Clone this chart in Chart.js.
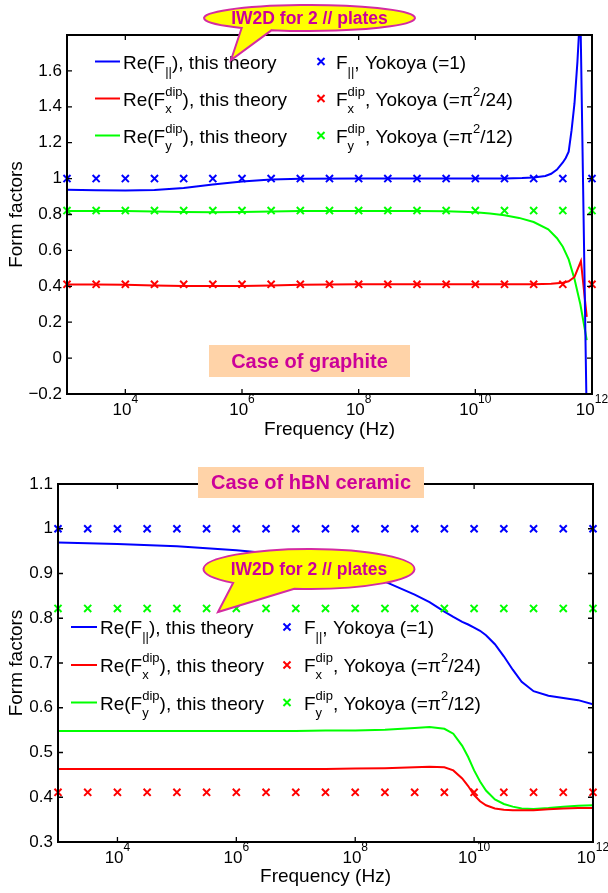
<!DOCTYPE html>
<html>
<head>
<meta charset="utf-8">
<script src="https://cdn.jsdelivr.net/npm/chart.js@4.4.1/dist/chart.umd.min.js"></script>
<style>
  html, body { margin: 0; padding: 0; background: #fff; }
  #wrap { position: relative; width: 608px; height: 893px; }
  canvas { position: absolute; left: 0; }
  #graphite { top: 0; }
  #hbn { top: 446px; }
</style>
</head>
<body>
<div id="wrap">
  <canvas id="graphite" width="608" height="446"></canvas>
  <canvas id="hbn" width="608" height="447"></canvas>
</div>
<script>
// Yokoya form factors, sampled every half decade
var markerFreq = [1e3, 3.16e3, 1e4, 3.16e4, 1e5, 3.16e5, 1e6, 3.16e6, 1e7, 3.16e7,
                  1e8, 3.16e8, 1e9, 3.16e9, 1e10, 3.16e10, 1e11, 3.16e11, 1e12];
var yokoyaPar = 1, yokoyaDipX = 0.411, yokoyaDipY = 0.822;

// graphite, IW2D (log10 of frequency / real part)
var graphiteParLogF = [3, 3.5, 4, 4.5, 5, 5.25, 5.5, 5.75, 6, 6.25, 6.5, 7, 8, 9, 10, 10.5, 10.8,
                       11, 11.2, 11.3, 11.4, 11.5, 11.55, 11.6, 11.65, 11.7, 11.75, 11.8, 11.91];
var graphiteParRe   = [0.938, 0.935, 0.934, 0.937, 0.948, 0.957, 0.967, 0.976, 0.984, 0.99, 0.995, 0.999, 1.0, 1.0, 1.0, 1.001, 1.003,
                       1.006, 1.015, 1.027, 1.05, 1.09, 1.115, 1.15, 1.27, 1.42, 1.65, 1.95, -0.35];
var graphiteDipXLogF = [3, 3.5, 4, 4.5, 5, 5.5, 6, 6.5, 7, 7.5, 8, 9, 10, 10.5, 11, 11.3, 11.5, 11.6, 11.7, 11.81, 11.91];
var graphiteDipXRe   = [0.41, 0.41, 0.408, 0.405, 0.402, 0.401, 0.402, 0.405, 0.408, 0.41, 0.411, 0.411, 0.411, 0.411, 0.412, 0.414, 0.42, 0.428, 0.452, 0.54, 0.23];
var graphiteDipYLogF = [3, 3.5, 4, 4.5, 5, 5.5, 6, 6.5, 7, 8, 9, 9.5, 10, 10.25, 10.5, 10.75, 11, 11.25, 11.4, 11.5, 11.6, 11.7, 11.8, 11.91];
var graphiteDipYRe   = [0.82, 0.82, 0.819, 0.817, 0.814, 0.813, 0.814, 0.817, 0.819, 0.82, 0.82, 0.818, 0.813, 0.806, 0.796, 0.781, 0.758, 0.717, 0.668, 0.62, 0.55, 0.44, 0.3, 0.1];

// hBN ceramic, IW2D
var hbnLogF   = [3, 4, 5, 6, 6.5, 7, 7.5, 8, 8.5, 9, 9.25, 9.5, 9.65, 9.8, 9.9, 10, 10.1, 10.2, 10.35, 10.5, 10.65, 10.8, 11, 11.25, 11.5, 11.75, 12];
var hbnParRe  = [0.969, 0.966, 0.961, 0.952, 0.946, 0.938, 0.925, 0.906, 0.882, 0.853, 0.836, 0.815, 0.803, 0.792, 0.786, 0.779, 0.772, 0.762, 0.742, 0.715, 0.685, 0.658, 0.637, 0.627, 0.622, 0.617, 0.608];
var hbnDipYRe = [0.548, 0.548, 0.548, 0.548, 0.548, 0.548, 0.549, 0.549, 0.551, 0.555, 0.557, 0.553, 0.542, 0.515, 0.49, 0.46, 0.435, 0.415, 0.395, 0.385, 0.379, 0.375, 0.374, 0.376, 0.379, 0.381, 0.382];
var hbnDipXRe = [0.463, 0.463, 0.463, 0.463, 0.463, 0.463, 0.463, 0.464, 0.465, 0.467, 0.468, 0.467, 0.46, 0.442, 0.425, 0.405, 0.391, 0.382, 0.375, 0.372, 0.371, 0.371, 0.371, 0.373, 0.375, 0.376, 0.376];

// axis ticks
var xTickExp = [4, 6, 8, 10, 12];
var graphiteYTicks = [-0.2, 0, 0.2, 0.4, 0.6, 0.8, 1, 1.2, 1.4, 1.6];
var hbnYTicks = [0.3, 0.4, 0.5, 0.6, 0.7, 0.8, 0.9, 1, 1.1];

var FONT = "'Liberation Sans', Arial, Helvetica, sans-serif";
var BLUE = '#0000ff', RED = '#ff0000', GREEN = '#00ff00';
var MAGENTA = '#cc0099';

Chart.defaults.font.family = FONT;
Chart.defaults.color = '#000';

function curve(logF, vals, color) {
  return {
    data: logF.map(function(e, i){ return {x: Math.pow(10, e), y: vals[i]}; }),
    showLine: true, borderColor: color, borderWidth: 2, pointRadius: 0, fill: false
  };
}

function crosses(val, color) {
  return {
    data: markerFreq.map(function(f){ return {x: f, y: val}; }),
    showLine: false, pointStyle: 'crossRot', pointRadius: 5,
    pointBorderColor: color, pointBackgroundColor: color, pointBorderWidth: 2, clip: false
  };
}

function xScale(height) {
  return {
    type: 'logarithmic', min: 1e3, max: 1e12,
    afterBuildTicks: function(s){ s.ticks = xTickExp.map(function(e){ return {value: Math.pow(10, e)}; }); },
    afterFit: function(s){ s.height = height; },
    grid: {display: false, drawTicks: false}, border: {display: false},
    ticks: {display: false},
    title: {display: true, text: 'Frequency (Hz)', font: {size: 19}, padding: {top: 0, bottom: 5}}
  };
}

function yScale(min, max, vals, width) {
  return {
    type: 'linear', min: min, max: max,
    afterBuildTicks: function(s){ s.ticks = vals.map(function(v){ return {value: v}; }); },
    afterFit: function(s){ s.width = width; },
    grid: {display: false, drawTicks: false}, border: {display: false},
    ticks: {padding: 5, autoSkip: false, font: {size: 17},
            callback: function(v){ return String(v).replace('-', '\u2212'); }},
    title: {display: true, text: 'Form factors', font: {size: 19}, padding: {top: 5, bottom: 0}}
  };
}

// frame, inward ticks and 10^n labels
var framePlugin = {
  id: 'frame',
  afterDatasetsDraw: function(chart) {
    var ctx = chart.ctx, a = chart.chartArea, x = chart.scales.x, y = chart.scales.y;
    ctx.save();
    ctx.strokeStyle = '#000';
    ctx.lineWidth = 2;
    ctx.strokeRect(a.left, a.top, a.right - a.left, a.bottom - a.top);
    ctx.lineWidth = 1.3;
    ctx.beginPath();
    y.ticks.forEach(function(t){
      var py = y.getPixelForValue(t.value);
      ctx.moveTo(a.left, py); ctx.lineTo(a.left + 5, py);
      ctx.moveTo(a.right, py); ctx.lineTo(a.right - 5, py);
    });
    x.ticks.forEach(function(t){
      var px = x.getPixelForValue(t.value);
      ctx.moveTo(px, a.bottom); ctx.lineTo(px, a.bottom - 5);
      ctx.moveTo(px, a.top); ctx.lineTo(px, a.top + 5);
    });
    ctx.stroke();

    ctx.fillStyle = '#000';
    ctx.textAlign = 'left';
    ctx.textBaseline = 'alphabetic';
    xTickExp.forEach(function(e){
      var px = x.getPixelForValue(Math.pow(10, e));
      ctx.font = '17px ' + FONT;
      var wb = ctx.measureText('10').width;
      ctx.font = '12px ' + FONT;
      var we = ctx.measureText(String(e)).width;
      var sx = px - (wb + we) / 2;
      ctx.font = '17px ' + FONT;
      ctx.fillText('10', sx, a.bottom + 21);
      ctx.font = '12px ' + FONT;
      ctx.fillText(String(e), sx + wb, a.bottom + 9);
    });
    ctx.restore();
  }
};

// text with TeX-like sub/superscripts
function richText(ctx, x, y, parts) {
  parts.forEach(function(p){
    if (typeof p === 'string') {
      ctx.font = '19px ' + FONT;
      ctx.fillText(p, x, y);
      x += ctx.measureText(p).width;
    } else {
      ctx.font = '13px ' + FONT;
      var w = 0;
      if (p.sup) { ctx.fillText(p.sup, x, y - 10); w = Math.max(w, ctx.measureText(p.sup).width); }
      if (p.sub) { ctx.fillText(p.sub, x, y + 7); w = Math.max(w, ctx.measureText(p.sub).width); }
      x += w;
    }
  });
}

var legendLeft = [
  ['Re(F', {sub: '||'}, '), this theory'],
  ['Re(F', {sup: 'dip', sub: 'x'}, '), this theory'],
  ['Re(F', {sup: 'dip', sub: 'y'}, '), this theory']
];
var legendRight = [
  ['F', {sub: '||'}, ', Yokoya (=1)'],
  ['F', {sup: 'dip', sub: 'x'}, ', Yokoya (=\u03c0', {sup: '2'}, '/24)'],
  ['F', {sup: 'dip', sub: 'y'}, ', Yokoya (=\u03c0', {sup: '2'}, '/12)']
];
var legendColors = [BLUE, RED, GREEN];

function legendPlugin(L) {
  return {
    id: 'formLegend',
    afterDatasetsDraw: function(chart) {
      var ctx = chart.ctx;
      ctx.save();
      ctx.textAlign = 'left';
      ctx.textBaseline = 'alphabetic';
      L.rows.forEach(function(base, i){
        var mid = base - 7;
        ctx.strokeStyle = legendColors[i];
        ctx.lineWidth = 2;
        ctx.beginPath();
        ctx.moveTo(L.line0, mid); ctx.lineTo(L.line1, mid);
        ctx.stroke();
        Chart.helpers.drawPoint(ctx, {pointStyle: 'crossRot', radius: 5, borderWidth: 2, rotation: 0}, L.cross, mid);
        ctx.fillStyle = '#000';
        richText(ctx, L.text0, base, legendLeft[i]);
        richText(ctx, L.text1, base, legendRight[i]);
      });
      ctx.restore();
    }
  };
}

function drawBubble(ctx, b) {
  var a1 = b.a1 * Math.PI / 180, a2 = b.a2 * Math.PI / 180;
  ctx.beginPath();
  ctx.moveTo(b.tip[0], b.tip[1]);
  ctx.lineTo(b.cx + b.rx * Math.cos(a1), b.cy + b.ry * Math.sin(a1));
  ctx.ellipse(b.cx, b.cy, b.rx, b.ry, 0, a1, a2 + 2 * Math.PI);
  ctx.closePath();
  ctx.fillStyle = '#ffff00';
  ctx.fill();
  ctx.strokeStyle = '#d42ba2';
  ctx.lineWidth = 2;
  ctx.stroke();
  ctx.fillStyle = MAGENTA;
  ctx.font = 'bold 17.5px ' + FONT;
  ctx.textAlign = 'center';
  ctx.textBaseline = 'middle';
  ctx.fillText('IW2D for 2 // plates', b.cx, b.cy + 1);
}

function drawBox(ctx, r, text) {
  ctx.fillStyle = '#ffd3a8';
  ctx.fillRect(r[0], r[1], r[2] - r[0], r[3] - r[1]);
  ctx.fillStyle = MAGENTA;
  ctx.font = 'bold 20px ' + FONT;
  ctx.textAlign = 'center';
  ctx.textBaseline = 'middle';
  ctx.fillText(text, (r[0] + r[2]) / 2, (r[1] + r[3]) / 2 + 1);
}

function notesPlugin(bubble, box, boxText) {
  return {
    id: 'notes',
    afterDraw: function(chart) {
      var ctx = chart.ctx;
      ctx.save();
      drawBox(ctx, box, boxText);
      drawBubble(ctx, bubble);
      ctx.restore();
    }
  };
}

var common = {
  responsive: false,
  animation: false,
  devicePixelRatio: 1,
  events: [],
  plugins: {legend: {display: false}, tooltip: {enabled: false}}
};

new Chart(document.getElementById('graphite'), {
  type: 'scatter',
  data: {
    datasets: [
      crosses(yokoyaPar, BLUE),
      crosses(yokoyaDipX, RED),
      crosses(yokoyaDipY, GREEN),
      curve(graphiteParLogF, graphiteParRe, BLUE),
      curve(graphiteDipXLogF, graphiteDipXRe, RED),
      curve(graphiteDipYLogF, graphiteDipYRe, GREEN)
    ]
  },
  options: Object.assign({}, common, {
    layout: {padding: {top: 35, right: 16, left: 0, bottom: 0}},
    scales: {x: xScale(52), y: yScale(-0.2, 1.8, graphiteYTicks, 67)}
  }),
  plugins: [
    framePlugin,
    legendPlugin({rows: [68.5, 105.5, 142.5], line0: 95, line1: 120, cross: 321, text0: 123, text1: 336}),
    notesPlugin({cx: 309.5, cy: 18, rx: 105.5, ry: 13, tip: [231, 60], a1: 130, a2: 111},
                [209, 345, 410, 377], 'Case of graphite')
  ]
});

new Chart(document.getElementById('hbn'), {
  type: 'scatter',
  data: {
    datasets: [
      crosses(yokoyaPar, BLUE),
      crosses(yokoyaDipX, RED),
      crosses(yokoyaDipY, GREEN),
      curve(hbnLogF, hbnParRe, BLUE),
      curve(hbnLogF, hbnDipXRe, RED),
      curve(hbnLogF, hbnDipYRe, GREEN)
    ]
  },
  options: Object.assign({}, common, {
    layout: {padding: {top: 38, right: 15, left: 0, bottom: 0}},
    scales: {x: xScale(51), y: yScale(0.3, 1.1, hbnYTicks, 58)}
  }),
  plugins: [
    framePlugin,
    legendPlugin({rows: [188, 226, 263.5], line0: 71, line1: 97, cross: 287, text0: 100, text1: 304}),
    notesPlugin({cx: 309, cy: 123, rx: 105.5, ry: 20, tip: [218, 166], a1: 136, a2: 98},
                [198, 21, 424, 52], 'Case of hBN ceramic')
  ]
});
</script>
</body>
</html>
